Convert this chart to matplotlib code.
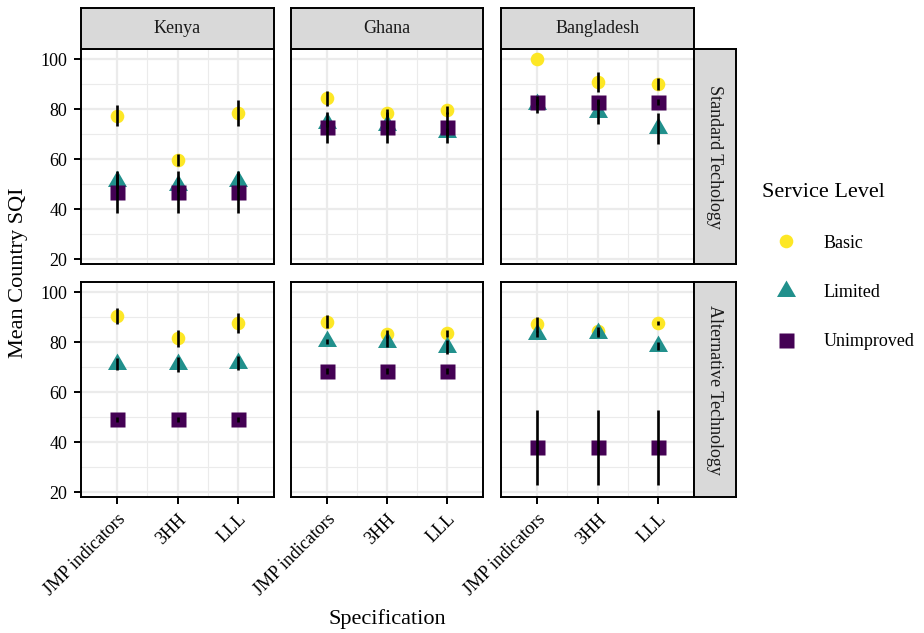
import matplotlib
matplotlib.use("Agg")
import matplotlib.pyplot as plt
from matplotlib.path import Path
from matplotlib.lines import Line2D
import numpy as np

plt.rcParams['font.family'] = ['Liberation Serif', 'DejaVu Serif']

# ---------------- data ----------------
countries = ['Kenya', 'Ghana', 'Bangladesh']
technologies = ['Standard Techology', 'Alternative Technology']
specs = ['JMP indicators', '3HH', 'LLL']
levels = ['Basic', 'Limited', 'Unimproved']
y_ticks = [20, 40, 60, 80, 100]

# rows = countries (Kenya, Ghana, Bangladesh), columns = specs
basic_std = [[77.5, 59.8, 78.6], [84.4, 78.6, 79.7], [100.0, 90.8, 90.1]]
basic_std_err = [[4.2, 2.5, 5.3], [3.0, 1.5, 1.5], [0.0, 4.0, 2.5]]
limited_std = [[51.2, 49.8, 51.4], [74.5, 73.6, 71.0], [82.0, 79.0, 72.5]]
limited_std_err = [[3.0, 3.0, 3.0], [1.5, 1.5, 1.5], [3.4, 4.8, 6.2]]
unimp_std = [[47.0, 47.0, 47.0], [72.8, 72.8, 72.8], [83.1, 83.1, 83.1]]
unimp_std_err = [[8.5, 8.5, 8.5], [6.2, 6.2, 6.2], [1.2, 1.2, 1.2]]

basic_alt = [[90.4, 81.6, 87.6], [88.2, 83.3, 83.6], [87.2, 84.6, 87.6]]
basic_alt_err = [[3.2, 3.5, 4.0], [2.6, 1.6, 1.3], [3.0, 1.5, 0.8]]
limited_alt = [[71.3, 71.3, 71.8], [80.5, 80.3, 78.2], [83.5, 83.6, 78.7]]
limited_alt_err = [[2.4, 3.0, 2.9], [1.0, 2.2, 2.8], [1.2, 1.3, 1.6]]
unimp_alt = [[49.2, 49.2, 49.2], [68.7, 68.7, 68.7], [38.0, 38.0, 38.0]]
unimp_alt_err = [[1.1, 1.1, 1.1], [1.2, 1.2, 1.2], [15.1, 15.1, 15.1]]

values = {
    0: [(basic_std, basic_std_err), (limited_std, limited_std_err), (unimp_std, unimp_std_err)],
    1: [(basic_alt, basic_alt_err), (limited_alt, limited_alt_err), (unimp_alt, unimp_alt_err)],
}

# ---------------- style ----------------
colors = ['#FDE725', '#21908C', '#440154']
tri_path = Path([(0, 1.555), (-1.347, -0.778), (1.347, -0.778), (0, 1.555)],
                [Path.MOVETO, Path.LINETO, Path.LINETO, Path.CLOSEPOLY])
markers = ['o', tri_path, 's']
msizes = [9.8, 15.8, 10.8]

W, H = 924, 633
fig = plt.figure(figsize=(W / 100, H / 100), dpi=100)

def frac(x0, y0, x1, y1):
    return [x0 / W, 1 - y1 / H, (x1 - x0) / W, (y1 - y0) / H]

col_x = [(81, 274), (291, 483), (501, 694)]
row_y = [(49, 264), (282, 497)]
ylim = (18.2, 104.1)
xpos = np.arange(1, len(specs) + 1)

border_lw = 1.4
for r in range(2):
    for c in range(3):
        x0, x1 = col_x[c]
        y0, y1 = row_y[r]
        ax = fig.add_axes(frac(x0, y0, x1, y1))
        ax.set_xlim(0.4, 3.6)
        ax.set_ylim(*ylim)
        ax.set_yticks(y_ticks)
        ax.set_yticks([30, 50, 70, 90], minor=True)
        ax.set_xticks(xpos)
        ax.set_xticks([1.5, 2.5], minor=True)
        ax.grid(which='major', color='#EBEBEB', lw=1.6, zorder=0)
        ax.grid(which='minor', color='#EBEBEB', lw=0.8, zorder=0)
        ax.set_axisbelow(True)
        for s in ax.spines.values():
            s.set_linewidth(border_lw)
            s.set_color('black')
            s.set_zorder(10)
        ax.tick_params(which='minor', length=0)
        ax.tick_params(which='major', length=5, width=1.4, color='black',
                       labelsize=13, pad=5)
        if c == 0:
            ax.set_yticklabels([str(t) for t in y_ticks])
        else:
            ax.tick_params(axis='y', which='major', length=0, labelleft=False)
        if r == 1:
            ax.set_xticklabels(specs, rotation=45, ha='right', va='top',
                               rotation_mode='anchor')
            ax.tick_params(axis='x', pad=5)
        else:
            ax.tick_params(axis='x', which='major', length=0, labelbottom=False)
        for k, (vals, errs) in enumerate(values[r]):
            ax.plot(xpos, vals[c], linestyle='none', marker=markers[k],
                    ms=msizes[k], color=colors[k], mec='none', zorder=3 + k)
        for k, (vals, errs) in enumerate(values[r]):
            v = np.array(vals[c])
            e = np.array(errs[c])
            ax.vlines(xpos, v - e, v + e, color='black', lw=1.9, zorder=8)

# strips on top
for c in range(3):
    x0, x1 = col_x[c]
    sax = fig.add_axes(frac(x0, 8, x1, 49))
    sax.set_facecolor('#D9D9D9')
    sax.set_xticks([]); sax.set_yticks([])
    for s in sax.spines.values():
        s.set_linewidth(border_lw)
    sax.text(0.5, 0.5, countries[c], ha='center', va='center', fontsize=13,
             color='#1A1A1A', transform=sax.transAxes)

# strips on right
for r in range(2):
    y0, y1 = row_y[r]
    sax = fig.add_axes(frac(694, y0, 736, y1))
    sax.set_facecolor('#D9D9D9')
    sax.set_xticks([]); sax.set_yticks([])
    for s in sax.spines.values():
        s.set_linewidth(border_lw)
    sax.text(0.5, 0.5, technologies[r], ha='center', va='center', fontsize=13,
             rotation=270, color='#1A1A1A', transform=sax.transAxes)

# axis titles
fig.text(19 / W, 1 - 273 / H, 'Mean Country SQI', rotation=90, ha='center',
         va='center', fontsize=16)
fig.text(387.5 / W, 1 - 619 / H, 'Specification', ha='center', va='center',
         fontsize=16)

# legend
handles = [Line2D([], [], linestyle='none', marker=markers[k], ms=msizes[k],
                  color=colors[k], mec='none') for k in range(3)]
leg = fig.legend(handles, levels, loc='upper left',
                 bbox_to_anchor=(762 / W, 1 - 183 / H), frameon=False,
                 fontsize=13, title='Service Level', title_fontsize=16,
                 alignment='left', handlelength=2.7, handletextpad=0.69,
                 labelspacing=1.8, borderpad=0, borderaxespad=0)

fig.savefig('out.png', dpi=100)
